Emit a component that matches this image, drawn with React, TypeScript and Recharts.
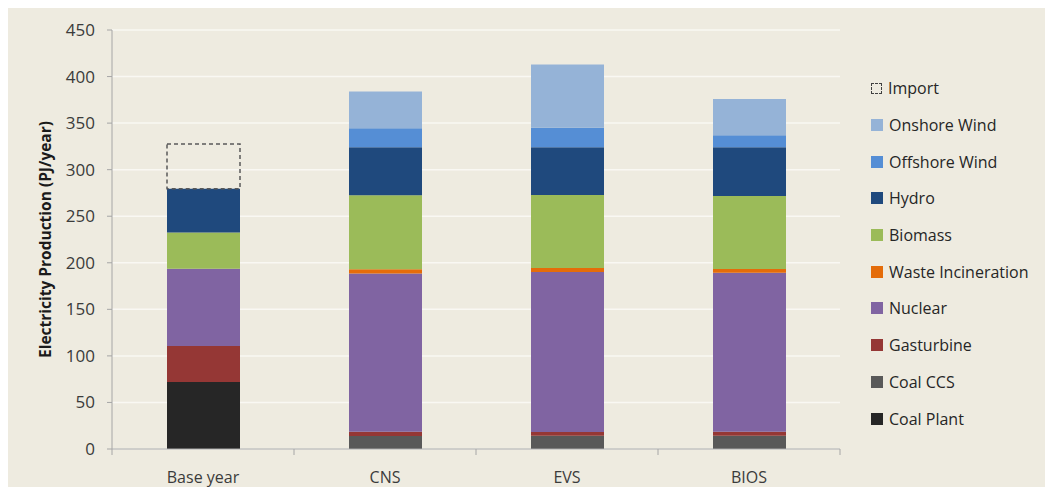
import { BarChart, Bar, XAxis, YAxis, CartesianGrid } from 'recharts'

const categories = ['Base year', 'CNS', 'EVS', 'BIOS']

// PJ/year per source, in category order
const coalPlant = [72, 0, 0, 0]
const coalCCS = [0, 14, 14.3, 14.3]
const gasturbine = [38.5, 4.5, 4, 4.3]
const nuclear = [83, 170, 171.7, 170.8]
const wasteIncineration = [0, 4.5, 4.4, 3.9]
const biomass = [39, 79.5, 78.4, 78.4]
const hydro = [47, 51.5, 51.2, 52.3]
const offshoreWind = [0, 20.5, 21, 13]
const onshoreWind = [0, 39.5, 68, 39]
const importValues = [48, 0, 0, 0]

const yTicks = [0, 50, 100, 150, 200, 250, 300, 350, 400, 450]

// bottom of the stack first
const series = [
  { key: 'coalPlant', name: 'Coal Plant', color: '#262626', values: coalPlant },
  { key: 'coalCCS', name: 'Coal CCS', color: '#595959', values: coalCCS },
  { key: 'gasturbine', name: 'Gasturbine', color: '#953735', values: gasturbine },
  { key: 'nuclear', name: 'Nuclear', color: '#8064A2', values: nuclear },
  { key: 'waste', name: 'Waste Incineration', color: '#E46C0A', values: wasteIncineration },
  { key: 'biomass', name: 'Biomass', color: '#9BBB59', values: biomass },
  { key: 'hydro', name: 'Hydro', color: '#1F497D', values: hydro },
  { key: 'offshore', name: 'Offshore Wind', color: '#558ED5', values: offshoreWind },
  { key: 'onshore', name: 'Onshore Wind', color: '#95B3D7', values: onshoreWind },
  { key: 'import', name: 'Import', color: 'none', values: importValues },
]

// each category sits in the middle of its unit slot on a numeric axis,
// so the axis can put tick marks on the slot boundaries like the original
const rows = categories.map((c, i) => {
  const r: Record<string, string | number> = { name: c, pos: i + 0.5 }
  series.forEach((s) => (r[s.key] = s.values[i]))
  return r
})

const edgeTicks = [0, 0.5, 1, 1.5, 2, 2.5, 3, 3.5, 4]

const TXT = '#3b3b3b'
const AXIS = '#a6a6a6'

function EdgeTick(props: any) {
  const { x, y, payload } = props
  const v = payload.value as number
  if (Number.isInteger(v)) {
    return <line x1={x} x2={x} y1={y} y2={y + 6} stroke={AXIS} />
  }
  return (
    <text x={x} y={y + 30} textAnchor="middle" dominantBaseline="middle" fill={TXT} fontSize={16}>
      {categories[Math.floor(v)]}
    </text>
  )
}

function LegendBox() {
  return (
    <div style={{ position: 'absolute', left: 871, top: 63, color: '#262626', fontSize: 16 }}>
      {[...series].reverse().map((s) => (
        <div key={s.key} style={{ height: 36.7, display: 'flex', alignItems: 'center' }}>
          <span
            style={{
              width: s.key === 'import' ? 9 : 12,
              height: s.key === 'import' ? 9 : 12,
              background: s.key === 'import' ? 'transparent' : s.color,
              border: s.key === 'import' ? '1.5px dashed #404040' : 'none',
              marginRight: 6,
              display: 'inline-block',
            }}
          />
          <span>{s.name}</span>
        </div>
      ))}
    </div>
  )
}

export default function App() {
  return (
    <div
      style={{
        margin: -8,
        width: 1053,
        height: 495,
        background: '#EEEBE0',
        borderTop: '7px solid #ffffff',
        boxSizing: 'border-box',
        position: 'relative',
        fontFamily: '"Open Sans", sans-serif',
      }}
    >
      <BarChart width={1053} height={488} data={rows} margin={{ top: 23, right: 213, left: 0, bottom: 0 }}>
        <CartesianGrid vertical={false} stroke="#F9F8F3" strokeWidth={1.5} />
        <XAxis
          dataKey="pos"
          type="number"
          domain={[0, 4]}
          allowDataOverflow
          ticks={edgeTicks}
          interval={0}
          height={46}
          tickLine={false}
          tickSize={0}
          tickMargin={0}
          stroke={AXIS}
          tick={<EdgeTick />}
        />
        <YAxis
          width={112}
          domain={[0, 450]}
          ticks={yTicks}
          interval={0}
          stroke={AXIS}
          tickSize={5}
          tickMargin={12}
          tick={{ fill: TXT, fontSize: 17 }}
          label={{
            value: 'Electricity Production (PJ/year)',
            angle: -90,
            position: 'insideLeft',
            offset: 45,
            style: { textAnchor: 'middle', fontWeight: 700, fontSize: 15.5, fill: '#1a1a1a' },
          }}
        />
        {series.map((s) => (
          <Bar
            key={s.key}
            dataKey={s.key}
            name={s.name}
            stackId="a"
            barSize={73}
            fill={s.color}
            stroke={s.key === 'import' ? '#595959' : undefined}
            strokeDasharray={s.key === 'import' ? '4 3' : undefined}
            strokeWidth={s.key === 'import' ? 1.5 : undefined}
            isAnimationActive={false}
          />
        ))}
      </BarChart>
      <LegendBox />
    </div>
  )
}
